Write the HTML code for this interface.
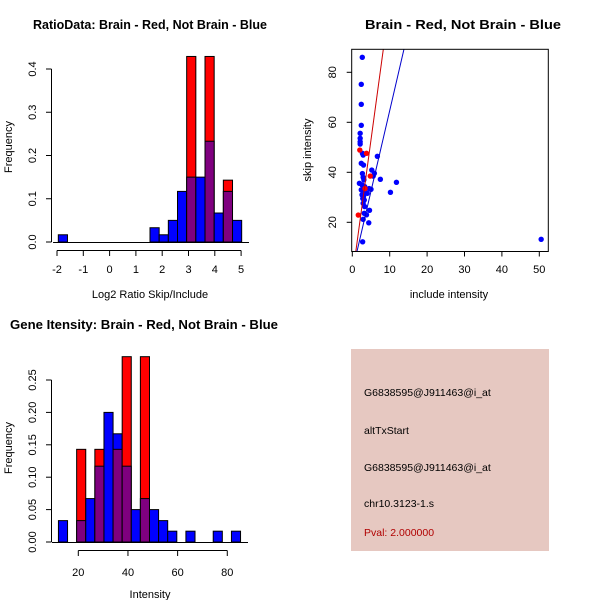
<!DOCTYPE html>
<html><head><meta charset="utf-8"><style>
body{margin:0;background:#fff}
svg{display:block;font-family:"Liberation Sans",sans-serif}
</style></head><body>
<svg id="c" width="600" height="600" viewBox="0 0 600 600"></svg>
<script>
// ---- Ratio histogram data ----
const ratioStart = -1.95, ratioStep = 0.3486;
const ratioBlue = [0.0167,0,0,0,0,0,0,0,0,0,0.033,0.0167,0.05,0.117,0.15,0.15,0.233,0.067,0.117,0.05];
const ratioRed  = [0,0,0,0,0,0,0,0,0,0,0,0,0,0,0.429,0,0.429,0,0.143,0];
const ratioXTicks = [-2,-1,0,1,2,3,4,5];
const ratioYTicks = ["0.0","0.1","0.2","0.3","0.4"];
// ---- Intensity histogram data ----
const intStart = 12, intStep = 3.667;
const intBlue = [0.033,0,0.033,0.067,0.117,0.2,0.167,0.117,0.05,0.067,0.05,0.033,0.0167,0,0.0167,0,0,0.0167,0,0.0167];
const intRed  = [0,0,0.143,0,0.143,0,0.143,0.286,0,0.286,0,0,0,0,0,0,0,0,0,0];
const intXTicks = [20,40,60,80];
const intYTicks = ["0.00","0.05","0.10","0.15","0.20","0.25"];
// ---- Scatter data ----
const blueX = [2.67,2.4,2.4,2.4,2.1,2.1,2.1,2.1,2.7,2.9,2.4,3.0,6.7,5.2,5.9,5.6,2.7,2.9,3.1,7.5,11.8,1.9,2.6,3.3,4.5,5.0,2.4,10.2,3.4,4.0,2.6,3.0,2.8,3.2,2.9,3.3,4.6,3.2,3.8,2.9,4.4,2.76,50.5];
const blueY = [86,75.2,67.2,58.8,55.6,53.6,52.2,51.3,47.6,46.9,43.6,42.9,46.4,40.9,39.6,38.5,39.5,38,37,37.2,36,35.6,35,34.3,33.5,33.2,33,32,32,31.6,31,30.3,29.5,28.9,27.6,26.3,24.8,23.6,23,21.2,19.8,12.2,13.2];
const redX = [2.0,3.8,4.8,1.6,3.4];
const redY = [48.9,47.6,38.5,22.9,33.5];
const redLine = [-2.0, 11.0];   // intercept, slope
const blueLine = [0.27, 6.44];
const scXTicks = [0,10,20,30,40,50];
const scYTicks = [20,40,60,80];

const svg = document.getElementById('c');
const NS = 'http://www.w3.org/2000/svg';
function el(tag, attrs, parent){const e=document.createElementNS(NS,tag);for(const k in attrs)e.setAttribute(k,attrs[k]);(parent||svg).appendChild(e);return e;}
function txt(s, attrs, parent){const e=el('text',attrs,parent);e.textContent=s;return e;}

// Titles
let t;
t=txt('RatioData: Brain - Red, Not Brain - Blue',{x:150,y:29,'text-anchor':'middle','font-size':13,'font-weight':'bold',textLength:234,lengthAdjust:'spacingAndGlyphs'});


t=txt('Brain - Red, Not Brain - Blue',{x:463,y:29,'text-anchor':'middle','font-size':13,'font-weight':'bold',textLength:196,lengthAdjust:'spacingAndGlyphs'});


t=txt('Gene Itensity: Brain - Red, Not Brain - Blue',{x:144,y:329,'text-anchor':'middle','font-size':13,'font-weight':'bold',textLength:268,lengthAdjust:'spacingAndGlyphs'});



function hist(g, start, step, blue, red, sx, sy){
  for(let i=0;i<blue.length;i++){
    const x0=sx(start+i*step), x1=sx(start+(i+1)*step);
    const b=blue[i], r=red[i];
    const mx=Math.max(b,r), mn=Math.min(b,r);
    if(mx>0){
      const r1=el('rect',{x:x0,y:sy(mx),width:x1-x0,height:sy(0)-sy(mx),fill:r>b?'#ff0000':'#0000ff',stroke:'#000','stroke-width':1},g);
      
      
    }
    if(mn>0){
      const r2=el('rect',{x:x0,y:sy(mn),width:x1-x0,height:sy(0)-sy(mn),fill:'#7f007f',stroke:'#000','stroke-width':1},g);
      
      
    }
  }
}

// ---- Ratio histogram ----
{
const g=el('g',{});


const sx=v=>57+(v+2)*26.3, sy=v=>242-v*432.5;
hist(g,ratioStart,ratioStep,ratioBlue,ratioRed,sx,sy);
el('line',{x1:sx(-2.15),x2:sx(5.3),y1:242.5,y2:242.5,stroke:'#000'},g);
el('line',{x1:sx(-2),x2:sx(5),y1:250.5,y2:250.5,stroke:'#000'},g);
ratioXTicks.forEach(v=>{el('line',{x1:sx(v),x2:sx(v),y1:250.5,y2:256,stroke:'#000'},g);txt(String(v),{x:sx(v),y:273,'text-anchor':'middle','font-size':11},g);});
el('line',{x1:51.5,x2:51.5,y1:sy(0),y2:sy(0.4),stroke:'#000'},g);
ratioYTicks.forEach(s=>{const y=sy(parseFloat(s));el('line',{x1:46,x2:51.5,y1:y,y2:y,stroke:'#000'},g);txt(s,{x:0,y:0,'text-anchor':'middle','font-size':11,transform:`translate(36,${y}) rotate(-90)`},g);});
t=txt('Log2 Ratio Skip/Include',{x:150,y:298,'text-anchor':'middle','font-size':11},g);


t=txt('Frequency',{x:0,y:0,'text-anchor':'middle','font-size':11,transform:'translate(12,147) rotate(-90)'},g);


}

// ---- Intensity histogram ----
{
const g=el('g',{});


const sx=v=>78.3+(v-20)*2.483, sy=v=>542-v*648;
hist(g,intStart,intStep,intBlue,intRed,sx,sy);
el('line',{x1:52,x2:248,y1:542.5,y2:542.5,stroke:'#000'},g);
el('line',{x1:sx(20),x2:sx(80),y1:550.5,y2:550.5,stroke:'#000'},g);
intXTicks.forEach(v=>{el('line',{x1:sx(v),x2:sx(v),y1:550.5,y2:556,stroke:'#000'},g);txt(String(v),{x:sx(v),y:576,'text-anchor':'middle','font-size':11},g);});
el('line',{x1:51.5,x2:51.5,y1:sy(0),y2:sy(0.25),stroke:'#000'},g);
intYTicks.forEach(s=>{const y=sy(parseFloat(s));el('line',{x1:46,x2:51.5,y1:y,y2:y,stroke:'#000'},g);txt(s,{x:0,y:0,'text-anchor':'middle','font-size':11,transform:`translate(36,${y}) rotate(-90)`},g);});
t=txt('Intensity',{x:150,y:598,'text-anchor':'middle','font-size':11},g);


t=txt('Frequency',{x:0,y:0,'text-anchor':'middle','font-size':11,transform:'translate(12,448) rotate(-90)'},g);


}

// ---- Scatter ----
{
const g=el('g',{});


const sx=v=>352.3+v*3.74, sy=v=>272.3-v*2.5;
const L=351.7,R=548.3,T=49.3,B=251.5;
const cp=el('clipPath',{id:'clip'},g);
el('rect',{x:L,y:T,width:R-L,height:B-T},cp);
const pg=el('g',{'clip-path':'url(#clip)'},g);
blueX.forEach((x,i)=>{const c=el('circle',{cx:sx(x),cy:sy(blueY[i]),r:2.7,fill:'#0000ff'},pg);});
redX.forEach((x,i)=>{const c=el('circle',{cx:sx(x),cy:sy(redY[i]),r:2.7,fill:'#ff0000'},pg);});
[[redLine,'#cc0000','red-fit-line'],[blueLine,'#0000cc','blue-fit-line']].forEach(([ln,col,nm])=>{
  const x0=0,x1=20;
  const l=el('line',{x1:sx(x0),y1:sy(ln[0]+ln[1]*x0),x2:sx(x1),y2:sy(ln[0]+ln[1]*x1),stroke:col,'stroke-width':1},pg);
  
  
});
el('rect',{x:L,y:T,width:R-L,height:B-T,fill:'none',stroke:'#000'},g);
scXTicks.forEach(v=>{el('line',{x1:sx(v),x2:sx(v),y1:B,y2:B+5,stroke:'#000'},g);txt(String(v),{x:sx(v),y:273,'text-anchor':'middle','font-size':11},g);});
scYTicks.forEach(v=>{const y=sy(v);el('line',{x1:L-5,x2:L,y1:y,y2:y,stroke:'#000'},g);txt(String(v),{x:0,y:0,'text-anchor':'middle','font-size':11,transform:`translate(336,${y}) rotate(-90)`},g);});
t=txt('include intensity',{x:449,y:298,'text-anchor':'middle','font-size':11},g);


t=txt('skip intensity',{x:0,y:0,'text-anchor':'middle','font-size':11,transform:'translate(311,150) rotate(-90)'},g);


}

// ---- Info panel ----
{
const g=el('g',{});


el('rect',{x:351,y:349,width:198,height:202,fill:'#e6c8c1'},g);
const lines=[['G6838595@J911463@i_at',396,'#000'],['altTxStart',434,'#000'],['G6838595@J911463@i_at',471,'#000'],['chr10.3123-1.s',507,'#000'],['Pval: 2.000000',536,'#b00000']];
lines.forEach(([s,y,c])=>{const e=txt(s,{x:364,y:y,'font-size':10.5,fill:c},g);});
}
</script>
</body></html>
